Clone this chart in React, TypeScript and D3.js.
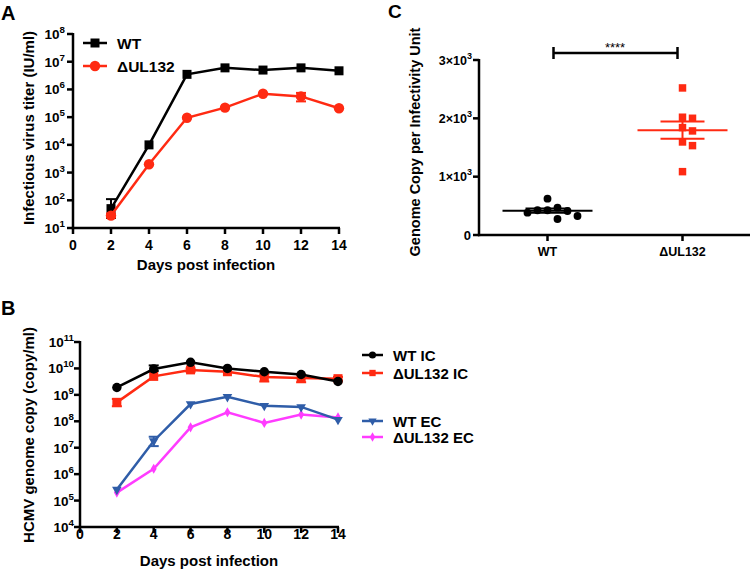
import React from 'react';
import * as d3 from 'd3';

// ---------- DATA ----------
const days = [2, 4, 6, 8, 10, 12, 14];
const xTicks = [0, 2, 4, 6, 8, 10, 12, 14];

// Panel A: infectious virus titer (IU/ml)
const titerWT = [50, 1.0e4, 3.5e6, 6.0e6, 5.0e6, 6.0e6, 4.7e6];
const titerWTErr: ([number, number] | null)[] = [[23, 110], null, null, null, null, null, null];
const titerMut = [28, 2000, 9.5e4, 2.2e5, 7.0e5, 5.6e5, 2.1e5];
const titerMutErr: ([number, number] | null)[] = [[24, 33], null, null, null, null, [3.7e5, 7.5e5], null];
const aExponents = [1, 2, 3, 4, 5, 6, 7, 8];

// Panel B: HCMV genome copy (copy/ml)
const icWT = [1.9e9, 9.5e9, 1.7e10, 1.0e10, 7.5e9, 5.9e9, 3.2e9];
const icWTErr: ([number, number] | null)[] = [null, [8.0e9, 1.3e10], null, null, null, null, null];
const icMut = [5.2e8, 5.0e9, 8.8e9, 7.5e9, 4.7e9, 4.3e9, 4.1e9];
const icMutErr: ([number, number] | null)[] = [[3.7e8, 7.0e8], null, [7.5e9, 1.0e10], null, [3.2e9, 6.0e9], [3.0e9, 5.8e9], [3.5e9, 4.8e9]];
const ecWT = [2.6e5, 1.8e7, 4.5e8, 8.4e8, 3.9e8, 3.5e8, 1.15e8];
const ecWTErr: ([number, number] | null)[] = [null, [1.15e7, 2.6e7], null, null, null, null, null];
const ecMut = [2.0e5, 1.6e6, 5.9e7, 2.2e8, 8.7e7, 1.8e8, 1.4e8];
const ecMutErr: ([number, number] | null)[] = [null, null, null, null, null, null, null];
const bExponents = [4, 5, 6, 7, 8, 9, 10, 11];

// Panel C: genome copy per infectivity unit
const cCategories = ['WT', '\u0394UL132'];
const ratioWT = [424, 383, 623, 274, 326, 469, 411, 424];
const ratioMut = [2521, 2019, 2001, 1841, 1784, 1595, 1532, 1086];
const cTicks = [0, 1000, 2000, 3000];
const cTickMantissa = ['0', '1\u00d710', '2\u00d710', '3\u00d710'];

// ---------- STYLE ----------
const FONT = '"Liberation Sans", Arial, Helvetica, sans-serif';
const BLACK = '#000000';
const RED = '#ff2a12';
const BLUE = '#2f5da8';
const MAGENTA = '#ff3cff';

type Err = [number, number] | null;

function sym(type: d3.SymbolType, size: number, x: number, y: number, fill: string, rot = 0, key?: string) {
  const p = d3.symbol().type(type).size(size)() || '';
  return <path key={key} d={p} fill={fill} transform={`translate(${x},${y}) rotate(${rot})`} />;
}

function Series({ xs, ys, err, x, y, color, type, size, rot = 0, lw = 2.5 }: any) {
  const line = d3.line<number>().x((_, i) => x(xs[i])).y((d) => y(d));
  return (
    <g>
      <path d={line(ys) || ''} fill="none" stroke={color} strokeWidth={lw} />
      {err.map((e: Err, i: number) =>
        e ? (
          <g key={'e' + i} stroke={color} strokeWidth={2}>
            <line x1={x(xs[i])} x2={x(xs[i])} y1={y(e[0])} y2={y(e[1])} />
            <line x1={x(xs[i]) - 5} x2={x(xs[i]) + 5} y1={y(e[0])} y2={y(e[0])} />
            <line x1={x(xs[i]) - 5} x2={x(xs[i]) + 5} y1={y(e[1])} y2={y(e[1])} />
          </g>
        ) : null
      )}
      {ys.map((v: number, i: number) => sym(type, size, x(xs[i]), y(v), color, rot, 'm' + i))}
    </g>
  );
}

function PowerLabel({ x, y, exp, base = '10', size = 13.5 }: any) {
  return (
    <text x={x} y={y} textAnchor="end" fontFamily={FONT} fontWeight="bold" fontSize={size} fill={BLACK}>
      <tspan>{base}</tspan>
      <tspan dy={-6} fontSize={size * 0.72}>{exp}</tspan>
    </text>
  );
}

function beeswarm(values: number[], cx: number, y: (v: number) => number, D: number, step: number) {
  const order = values.map((v, i) => i).sort((a, b) => values[b] - values[a]);
  const placed: { x: number; y: number; i: number }[] = [];
  for (const i of order) {
    const py = y(values[i]);
    let k = 0;
    while (true) {
      const off = k === 0 ? 0 : (k % 2 === 1 ? 1 : -1) * Math.ceil(k / 2) * step;
      const px = cx + off;
      if (placed.every((p) => Math.hypot(p.x - px, p.y - py) >= D)) {
        placed.push({ x: px, y: py, i });
        break;
      }
      k++;
    }
  }
  return placed.sort((a, b) => a.i - b.i);
}

function PanelA() {
  const x = d3.scaleLinear().domain([0, 14]).range([73, 339]);
  const y = d3.scaleLog().domain([10, 1e8]).range([228, 34]);
  return (
    <g>
      <text x={1} y={20} fontFamily={FONT} fontWeight="bold" fontSize={20}>A</text>
      <g stroke={BLACK} strokeWidth={2.5}>
        <line x1={x(0)} x2={x(0)} y1={y(1e8) - 1} y2={y(10) + 1.2} />
        <line x1={x(0) - 1.2} x2={x(14) + 1} y1={y(10)} y2={y(10)} />
        {aExponents.map((e) => (
          <line key={e} x1={x(0) - 6} x2={x(0)} y1={y(Math.pow(10, e))} y2={y(Math.pow(10, e))} />
        ))}
        {xTicks.map((t) => (
          <line key={t} x1={x(t)} x2={x(t)} y1={y(10)} y2={y(10) + 6} />
        ))}
      </g>
      {aExponents.map((e) => (
        <PowerLabel key={e} x={65} y={y(Math.pow(10, e)) + 5} exp={e} />
      ))}
      {xTicks.map((t) => (
        <text key={t} x={x(t)} y={250} textAnchor="middle" fontFamily={FONT} fontWeight="bold" fontSize={14}>{t}</text>
      ))}
      <text x={206} y={270} textAnchor="middle" fontFamily={FONT} fontWeight="bold" fontSize={15}>Days post infection</text>
      <text transform="translate(34,128) rotate(-90)" textAnchor="middle" fontFamily={FONT} fontWeight="bold" fontSize={15}>Infectious virus titer (IU/ml)</text>
      <Series xs={days} ys={titerWT} err={titerWTErr} x={x} y={y} color={BLACK} type={d3.symbolSquare} size={81} />
      <Series xs={days} ys={titerMut} err={titerMutErr} x={x} y={y} color={RED} type={d3.symbolCircle} size={85} />
      <g>
        <line x1={83} x2={107} y1={43} y2={43} stroke={BLACK} strokeWidth={2.5} />
        {sym(d3.symbolSquare, 81, 95, 43, BLACK)}
        <text x={117} y={49} fontFamily={FONT} fontWeight="bold" fontSize={15.5}>WT</text>
        <line x1={83} x2={107} y1={66} y2={66} stroke={RED} strokeWidth={2.5} />
        {sym(d3.symbolCircle, 85, 95, 66, RED)}
        <text x={117} y={72} fontFamily={FONT} fontWeight="bold" fontSize={15.5}>{'\u0394UL132'}</text>
      </g>
    </g>
  );
}

function PanelB() {
  const x = d3.scaleLinear().domain([0, 14]).range([80, 338]);
  const y = d3.scaleLog().domain([1e4, 1e11]).range([527, 342]);
  const legend = [
    { label: 'WT IC', color: BLACK, type: d3.symbolCircle, size: 40, rot: 0, y: 355 },
    { label: '\u0394UL132 IC', color: RED, type: d3.symbolSquare, size: 40, rot: 0, y: 373 },
    { label: 'WT EC', color: BLUE, type: d3.symbolTriangle, size: 30, rot: 180, y: 421 },
    { label: '\u0394UL132 EC', color: MAGENTA, type: d3.symbolDiamond, size: 25, rot: 0, y: 437 },
  ];
  return (
    <g>
      <text x={1} y={315} fontFamily={FONT} fontWeight="bold" fontSize={20}>B</text>
      <g stroke={BLACK} strokeWidth={2.5}>
        <line x1={x(0)} x2={x(0)} y1={y(1e11) - 1} y2={y(1e4) + 1.2} />
        <line x1={x(0) - 1.2} x2={x(14) + 1} y1={y(1e4)} y2={y(1e4)} />
        {bExponents.map((e) => (
          <line key={e} x1={x(0) - 6} x2={x(0)} y1={y(Math.pow(10, e))} y2={y(Math.pow(10, e))} />
        ))}
        {xTicks.map((t) => (
          <line key={t} x1={x(t)} x2={x(t)} y1={y(1e4)} y2={y(1e4) + 6} />
        ))}
      </g>
      {bExponents.map((e) => (
        <PowerLabel key={e} x={74} y={y(Math.pow(10, e)) + 5} exp={e} />
      ))}
      {xTicks.map((t) => (
        <text key={t} x={x(t)} y={539} textAnchor="middle" fontFamily={FONT} fontWeight="bold" fontSize={14}>{t}</text>
      ))}
      <text x={209} y={566} textAnchor="middle" fontFamily={FONT} fontWeight="bold" fontSize={15}>Days post infection</text>
      <text transform="translate(34,435) rotate(-90)" textAnchor="middle" fontFamily={FONT} fontWeight="bold" fontSize={15}>HCMV genome copy (copy/ml)</text>
      <Series xs={days} ys={ecMut} err={ecMutErr} x={x} y={y} color={MAGENTA} type={d3.symbolDiamond} size={30} />
      <Series xs={days} ys={ecWT} err={ecWTErr} x={x} y={y} color={BLUE} type={d3.symbolTriangle} size={40} rot={180} />
      <Series xs={days} ys={icMut} err={icMutErr} x={x} y={y} color={RED} type={d3.symbolSquare} size={81} />
      <Series xs={days} ys={icWT} err={icWTErr} x={x} y={y} color={BLACK} type={d3.symbolCircle} size={70} />
      {legend.map((l) => (
        <g key={l.label}>
          <line x1={362} x2={383} y1={l.y} y2={l.y} stroke={l.color} strokeWidth={2.5} />
          {sym(l.type, l.size, 372.5, l.y, l.color, l.rot)}
          <text x={393} y={l.y + 5.5} fontFamily={FONT} fontWeight="bold" fontSize={15}>{l.label}</text>
        </g>
      ))}
    </g>
  );
}

function PanelC() {
  const x = d3.scaleBand<string>().domain(cCategories).range([480, 750]);
  const y = d3.scaleLinear().domain([0, 3000]).range([235, 60]);
  const cx = (c: string) => (x(c) || 0) + x.bandwidth() / 2;
  const groups = [
    { cat: cCategories[0], vals: ratioWT, color: BLACK, type: d3.symbolCircle, size: 48 },
    { cat: cCategories[1], vals: ratioMut, color: RED, type: d3.symbolSquare, size: 56 },
  ];
  const x1 = cx(cCategories[0]);
  const x2 = cx(cCategories[1]);
  return (
    <g>
      <text x={388} y={18} fontFamily={FONT} fontWeight="bold" fontSize={19}>C</text>
      <g stroke={BLACK} strokeWidth={2.5}>
        <line x1={479} x2={479} y1={y(3000) - 1} y2={y(0) + 1.2} />
        <line x1={478} x2={750} y1={y(0)} y2={y(0)} />
        {cTicks.map((t) => (
          <line key={t} x1={473} x2={479} y1={y(t)} y2={y(t)} />
        ))}
        {cCategories.map((c) => (
          <line key={c} x1={cx(c)} x2={cx(c)} y1={y(0)} y2={y(0) + 6} />
        ))}
      </g>
      {cTicks.map((t, i) =>
        i === 0 ? (
          <text key={t} x={471} y={y(t) + 5} textAnchor="end" fontFamily={FONT} fontWeight="bold" fontSize={13}>{cTickMantissa[i]}</text>
        ) : (
          <PowerLabel key={t} x={472} y={y(t) + 4.5} exp={3} base={cTickMantissa[i]} size={12.5} />
        )
      )}
      {cCategories.map((c) => (
        <text key={c} x={cx(c)} y={256} textAnchor="middle" fontFamily={FONT} fontWeight="bold" fontSize={12.5}>{c}</text>
      ))}
      <text transform="translate(420,142) rotate(-90)" textAnchor="middle" fontFamily={FONT} fontWeight="bold" fontSize={14.5}>Genome Copy per Infectivity Unit</text>
      <g stroke={BLACK} strokeWidth={2.5}>
        <line x1={x1 + 6} x2={x2 - 5} y1={53} y2={53} />
        <line x1={x1 + 6} x2={x1 + 6} y1={47} y2={59} />
        <line x1={x2 - 5} x2={x2 - 5} y1={47} y2={59} />
      </g>
      <text x={(x1 + x2) / 2} y={52} textAnchor="middle" fontFamily={FONT} fontSize={13}>****</text>
      {groups.map((g) => {
        const c = cx(g.cat);
        const mean = d3.mean(g.vals) || 0;
        const sem = (d3.deviation(g.vals) || 0) / Math.sqrt(g.vals.length);
        const pts = beeswarm(g.vals, c, y, 10, 10);
        return (
          <g key={g.cat}>
            {pts.map((p, i) => sym(g.type, g.size, p.x, p.y, g.color, 0, 'p' + i))}
            <g stroke={g.color} strokeWidth={2}>
              <line x1={c - 45} x2={c + 45} y1={y(mean)} y2={y(mean)} />
              <line x1={c} x2={c} y1={y(mean - sem)} y2={y(mean + sem)} />
              <line x1={c - 22} x2={c + 22} y1={y(mean - sem)} y2={y(mean - sem)} />
              <line x1={c - 22} x2={c + 22} y1={y(mean + sem)} y2={y(mean + sem)} />
            </g>
          </g>
        );
      })}
    </g>
  );
}

export default function App() {
  return (
    <svg
      width={750}
      height={572}
      viewBox="0 0 750 572"
      style={{ position: 'absolute', left: 0, top: 0, background: '#ffffff' }}
    >
      <rect width={750} height={572} fill="#ffffff" />
      <PanelA />
      <PanelB />
      <PanelC />
    </svg>
  );
}
